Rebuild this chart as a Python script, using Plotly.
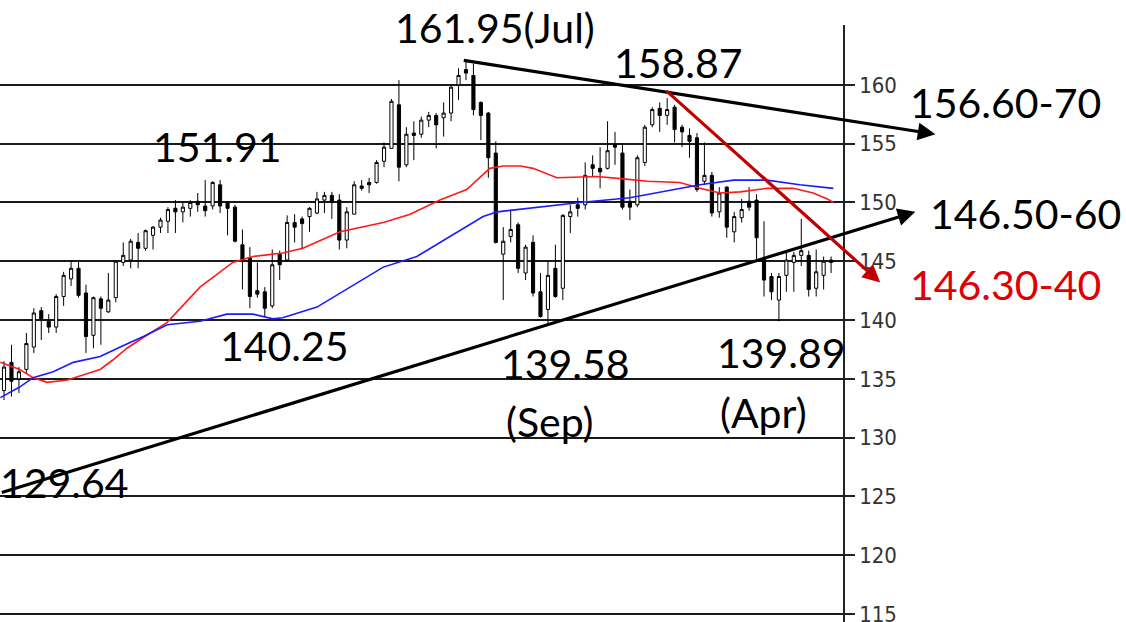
import plotly.graph_objects as go

# ---------------- data ----------------
opens = [134.0, 136.4, 135.0, 135.8, 137.7, 140.8, 139.9, 139.4, 142.0, 143.5,
         144.4, 142.3, 138.7, 141.8, 140.7, 141.9, 144.9, 145.1, 146.6, 146.1,
         147.2, 147.9, 148.4, 149.5, 149.2, 149.5, 150.1, 149.7, 149.7, 151.5,
         150.0, 149.6, 146.4, 145.3, 142.5, 142.4, 141.2, 145.6, 145.1, 148.3,
         148.6, 148.8, 149.1, 150.2, 150.6, 150.2, 146.8, 149.0, 151.4, 151.7,
         151.7, 153.5, 154.6, 158.3, 153.2, 155.9, 155.8, 157.0, 157.4, 157.2,
         157.6, 160.0, 161.3, 160.8, 158.5, 157.6, 154.2, 145.6, 147.1, 148.1,
         144.0, 146.6, 142.4, 140.9, 144.4, 142.7, 148.8, 149.8, 149.8, 153.2,
         152.9, 152.9, 155.0, 154.2, 150.1, 149.8, 153.4, 156.6, 158.0, 157.4,
         158.1, 156.4, 155.7, 155.5, 151.8, 152.3, 149.2, 151.3, 147.5, 148.7,
         150.1, 150.2, 145.3, 143.7, 141.7, 143.8, 144.9, 145.5, 145.5, 142.7,
         143.8, 145.1]
highs = [136.5, 137.9, 136.0, 138.9, 141.0, 141.1, 140.5, 142.2, 144.1, 145.1,
         145.1, 143.0, 142.0, 142.0, 144.0, 145.1, 146.6, 146.9, 147.4, 147.7,
         148.0, 148.7, 149.6, 150.2, 150.0, 150.2, 150.8, 151.9, 151.8, 151.91,
         150.1, 149.8, 147.7, 146.2, 144.9, 142.8, 146.0, 145.9, 148.9, 149.0,
         148.8, 149.6, 150.9, 150.9, 150.9, 150.7, 149.6, 151.8, 151.9, 152.1,
         153.6, 155.1, 158.8, 160.4, 156.4, 156.9, 157.3, 157.7, 157.6, 158.5,
         160.0, 161.4, 161.95, 161.8, 158.6, 157.7, 155.2, 147.9, 149.4, 148.3,
         146.4, 147.2, 144.0, 145.0, 146.4, 149.0, 149.8, 150.4, 153.4, 154.0,
         154.7, 156.9, 156.0, 155.0, 151.1, 154.0, 156.6, 158.1, 158.5, 158.87,
         158.3, 156.6, 156.3, 155.9, 155.1, 152.6, 151.3, 151.4, 149.2, 150.3,
         151.3, 150.7, 148.4, 144.0, 144.0, 145.8, 145.8, 148.6, 145.9, 146.0,
         145.4, 145.4]
lows = [133.2, 133.5, 133.8, 135.5, 137.2, 138.3, 138.9, 138.9, 141.2, 142.9,
        141.9, 137.2, 137.6, 137.9, 140.6, 141.5, 144.6, 144.4, 144.4, 145.9,
        146.0, 147.4, 147.4, 147.4, 148.3, 148.8, 149.2, 148.8, 149.4, 149.1,
        147.2, 146.6, 142.6, 141.0, 141.9, 140.25, 141.0, 143.4, 145.0, 146.6,
        146.0, 147.5, 149.0, 149.1, 148.6, 146.0, 146.1, 149.0, 151.0, 150.8,
        151.6, 153.0, 154.6, 151.8, 153.0, 153.6, 155.5, 156.4, 154.6, 155.6,
        156.9, 158.7, 160.4, 157.4, 155.3, 152.1, 146.5, 141.7, 146.6, 144.0,
        143.4, 142.0, 140.2, 139.58, 141.9, 141.7, 147.4, 148.8, 149.4, 152.2,
        151.2, 152.8, 153.2, 149.4, 148.5, 149.6, 153.1, 156.4, 156.0, 156.6,
        155.1, 154.7, 153.8, 150.9, 151.5, 148.8, 148.7, 147.0, 146.6, 148.3,
        149.3, 145.1, 142.0, 141.7, 139.89, 142.4, 142.4, 144.6, 142.0, 142.0,
        142.6, 144.0]
closes = [136.0, 134.8, 135.6, 138.0, 140.6, 140.1, 139.4, 142.0, 143.8, 144.4,
          142.1, 138.6, 141.9, 141.0, 141.7, 145.0, 145.5, 146.7, 146.1, 147.6,
          147.9, 148.5, 149.4, 149.2, 149.6, 150.0, 149.8, 149.3, 151.7, 149.7,
          149.5, 146.7, 145.1, 142.0, 142.2, 141.0, 144.7, 144.7, 148.3, 147.9,
          148.2, 149.5, 150.3, 150.6, 150.0, 146.8, 149.2, 151.5, 151.2, 151.5,
          153.4, 154.7, 158.6, 153.0, 155.8, 155.7, 157.0, 157.4, 156.6, 157.6,
          159.8, 160.8, 161.0, 157.9, 157.4, 153.8, 146.6, 146.7, 147.7, 144.4,
          146.2, 142.3, 140.3, 143.8, 142.0, 148.9, 149.2, 149.5, 152.3, 152.9,
          152.6, 154.4, 154.7, 149.6, 149.6, 153.8, 156.4, 157.9, 157.4, 157.9,
          156.2, 156.0, 155.2, 151.1, 152.3, 149.1, 150.8, 147.9, 148.8, 149.4,
          149.6, 147.0, 143.4, 142.4, 143.7, 145.1, 145.5, 145.9, 142.6, 144.1,
          145.0, 144.9]
bar_index = list(range(len(opens)))

# moving averages, read at sample points (bar index, price)
ma_red_x = [-0.5, 2.1, 3.9, 5.8, 8.5, 10.6, 12.9, 14.6, 16.5, 18.9, 21.9, 26.3,
            30.7, 33.4, 37.4, 40.1, 45.1, 50.9, 54.5, 58.5, 62.1, 65.2, 67.0,
            69.3, 71.0, 74.2, 79.6, 83.1, 86.3, 90.7, 93.4, 96.1, 98.8, 102.4,
            105.9, 108.6, 110.5, 111.3]
ma_red_y = [136.4, 135.8, 135.1, 134.7, 134.9, 135.3, 135.8, 136.6, 137.6, 138.6,
            139.8, 142.8, 144.9, 145.4, 145.7, 146.1, 147.5, 148.3, 149.0, 150.2,
            151.1, 152.9, 153.1, 153.1, 152.9, 152.1, 152.2, 152.0, 151.8, 151.7,
            151.2, 150.8, 150.9, 151.2, 151.2, 150.8, 150.3, 150.0]
ma_blue_x = [-0.5, 2.1, 3.9, 6.6, 9.3, 12.9, 15.6, 18.7, 21.9, 26.3, 29.9, 33.4,
             36.1, 37.4, 42.0, 46.4, 50.9, 55.4, 59.9, 64.3, 66.2, 70.2, 77.3,
             84.0, 88.5, 93.4, 97.9, 102.4, 106.8, 111.3]
ma_blue_y = [133.4, 134.3, 135.1, 135.6, 136.4, 136.9, 137.7, 138.6, 139.6, 139.9,
             140.5, 140.5, 140.1, 140.2, 141.1, 142.8, 144.5, 145.4, 147.1, 148.8,
             149.2, 149.5, 150.0, 150.4, 150.9, 151.5, 151.9, 151.9, 151.5, 151.2]

# trend lines: tail (bar index, price) -> arrow head (bar index, price)
trend_tail_x = [61.5, -0.5, 88.7]
trend_tail_y = [162.1, 125.3, 159.6]
trend_head_x = [125.0, 122.3, 117.6]
trend_head_y = [155.8, 149.2, 143.2]
trend_colors = ["#000000", "#000000", "#C00000"]

y_ticks = [115, 120, 125, 130, 135, 140, 145, 150, 155, 160]

labels = ["161.95(Jul)", "158.87", "151.91", "156.60-70", "146.50-60", "146.30-40",
          "140.25", "139.58", "(Sep)", "139.89", "(Apr)", "129.64"]
label_px = [(495, 27), (678, 63), (217, 147), (1005, 102), (1025, 213), (1005, 284),
            (284, 345), (566, 363), (549, 421), (781, 352), (763, 412), (64, 482)]
label_colors = ["#000"] * 5 + ["#E00000"] + ["#000"] * 6

# ---------------- figure ----------------
W, H = 1126, 622
fig = go.Figure()

fig.add_trace(go.Candlestick(
    x=bar_index, open=opens, high=highs, low=lows, close=closes,
    increasing=dict(line=dict(color="black", width=1), fillcolor="white"),
    decreasing=dict(line=dict(color="black", width=1), fillcolor="black"),
    whiskerwidth=0, showlegend=False, hoverinfo="skip"))

fig.add_trace(go.Scatter(x=ma_red_x, y=ma_red_y, mode="lines",
                         line=dict(color="#FF1A1A", width=1.6), showlegend=False,
                         hoverinfo="skip"))
fig.add_trace(go.Scatter(x=ma_blue_x, y=ma_blue_y, mode="lines",
                         line=dict(color="#1A1AFF", width=1.6), showlegend=False,
                         hoverinfo="skip"))

for tx, ty, hx, hy, c in zip(trend_tail_x, trend_tail_y, trend_head_x, trend_head_y, trend_colors):
    fig.add_annotation(x=hx, y=hy, ax=tx, ay=ty, xref="x", yref="y", axref="x", ayref="y",
                       text="", showarrow=True, arrowhead=2, arrowsize=1.1,
                       arrowwidth=3.2, arrowcolor=c, standoff=0, startstandoff=0)

for t, (px, py), c in zip(labels, label_px, label_colors):
    fig.add_annotation(x=px / W, y=1 - py / H, xref="paper", yref="paper",
                       text=t, showarrow=False, xanchor="center", yanchor="middle",
                       font=dict(family="Lato, Carlito, Open Sans, sans-serif", size=41, color=c))

fig.update_layout(
    width=W, height=H,
    margin=dict(l=0, r=0, t=0, b=0, pad=0, autoexpand=False),
    paper_bgcolor="white", plot_bgcolor="white",
    boxgap=0.4,
    xaxis=dict(domain=[0, 843 / W], range=[-0.54, 112.6], visible=False,
               automargin=False,
               rangeslider=dict(visible=False), showgrid=False, fixedrange=True),
    yaxis=dict(domain=[0, 0.96], range=[114.32, 165.1], side="right",
               automargin=False,
               tickvals=y_ticks, ticktext=[str(v) for v in y_ticks],
               ticklabeloverflow="allow",
               showgrid=True, gridcolor="#1a1a1a", gridwidth=2, zeroline=False,
               showline=True, linecolor="#222", linewidth=1.5,
               ticks="outside", ticklen=10, tickwidth=2, tickcolor="#222",
               tickfont=dict(family="Liberation Sans Narrow, DejaVu Sans Condensed, Arial Narrow, sans-serif",
                             size=22, color="#333")),
    showlegend=False,
)

fig.write_html("out.html", config={"displayModeBar": False})

# remove the browser's default page margin so the figure sits at the top-left corner
with open("out.html", "r", encoding="utf-8") as f:
    html = f.read()
html = html.replace("<body>", '<body style="margin:0;padding:0;overflow:hidden">', 1)
with open("out.html", "w", encoding="utf-8") as f:
    f.write(html)
